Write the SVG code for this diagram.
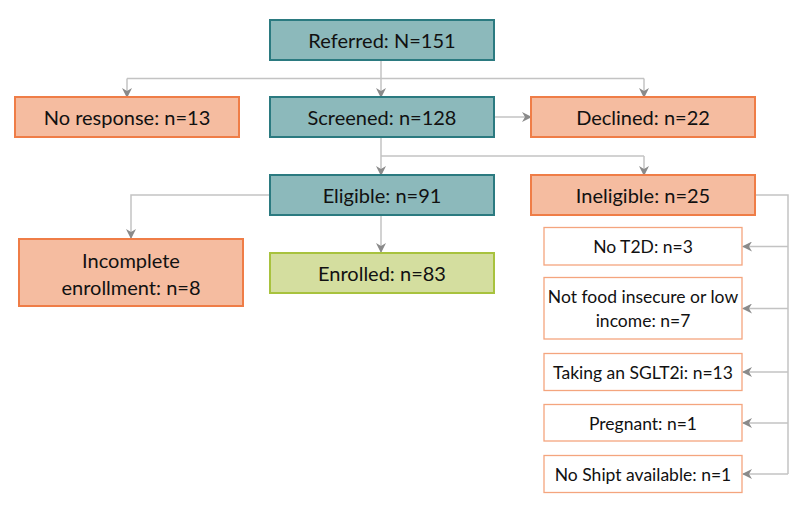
<svg xmlns="http://www.w3.org/2000/svg" width="800" height="510" viewBox="0 0 800 510">
<defs>
<marker id="ah" markerWidth="10" markerHeight="10" refX="9" refY="5" orient="auto" markerUnits="userSpaceOnUse">
<path d="M0,0 L10,5 L0,10 L3,5 Z" fill="#8a8a8a"/>
</marker>
</defs>
<style>
.teal rect{fill:#8cb9bb;stroke:#2b7a80;stroke-width:2}
.orange rect{fill:#f5bca0;stroke:#ef7d47;stroke-width:2}
.green rect{fill:#d4de9f;stroke:#a8c23e;stroke-width:2}
.sub rect{fill:#ffffff;stroke:#f4a57e;stroke-width:1.3}
text{font-family:Lato,"Liberation Sans",sans-serif;fill:#111;text-anchor:middle;dominant-baseline:central}
.big text{font-size:20px}
.sub text{font-size:17.5px}
#connectors path{fill:none;stroke:#c3c3c3;stroke-width:1.5;marker-end:url(#ah)}
#connectors path.nm{marker-end:none}
</style>
<rect width="800" height="510" fill="#ffffff"/>
<g id="connectors">
<path class="nm" d="M381,60 V78.5 M127,78.5 H644"/>
<path d="M127,78.5 V97"/>
<path d="M381,78.5 V97"/>
<path d="M644,78.5 V97"/>
<path d="M494,117 H531"/>
<path class="nm" d="M381,137 V156 M381,156 H644"/>
<path d="M381,156 V175"/>
<path d="M644,156 V175"/>
<path d="M270,195 H131 V238"/>
<path d="M381,215 V252"/>
<path class="nm" d="M755,195 H788 V474"/>
<path d="M788,246.5 H743"/>
<path d="M788,308.5 H743"/>
<path d="M788,372 H743"/>
<path d="M788,423 H743"/>
<path d="M788,474 H743"/>
</g>
<g id="referred" class="teal big"><rect x="270" y="20" width="224" height="40"/><text x="382" y="40">Referred: N=151</text></g>
<g id="noresponse" class="orange big"><rect x="15" y="97" width="224" height="40"/><text x="127" y="117">No response: n=13</text></g>
<g id="screened" class="teal big"><rect x="270" y="97" width="224" height="40"/><text x="382" y="117">Screened: n=128</text></g>
<g id="declined" class="orange big"><rect x="531" y="97" width="224" height="40"/><text x="643" y="117">Declined: n=22</text></g>
<g id="eligible" class="teal big"><rect x="270" y="175" width="224" height="40"/><text x="382" y="195">Eligible: n=91</text></g>
<g id="ineligible" class="orange big"><rect x="531" y="175" width="224" height="40"/><text x="643" y="195">Ineligible: n=25</text></g>
<g id="incomplete" class="orange big"><rect x="19" y="239" width="224" height="67"/><text x="131" y="260">Incomplete</text><text x="131" y="287">enrollment: n=8</text></g>
<g id="enrolled" class="green big"><rect x="270" y="253" width="224" height="40"/><text x="382" y="273">Enrolled: n=83</text></g>
<g id="not2d" class="sub"><rect x="544" y="227.5" width="198" height="37.5"/><text x="643" y="246.5">No T2D: n=3</text></g>
<g id="notfood" class="sub"><rect x="544" y="277.5" width="198" height="61.5"/><text x="643" y="296">Not food insecure or low</text><text x="643" y="320">income: n=7</text></g>
<g id="sglt2i" class="sub"><rect x="544" y="353.5" width="198" height="37"/><text x="643" y="372">Taking an SGLT2i: n=13</text></g>
<g id="pregnant" class="sub"><rect x="544" y="404.5" width="198" height="36.5"/><text x="643" y="423">Pregnant: n=1</text></g>
<g id="noshipt" class="sub"><rect x="544" y="455.5" width="198" height="37"/><text x="643" y="474">No Shipt available: n=1</text></g>
</svg>
